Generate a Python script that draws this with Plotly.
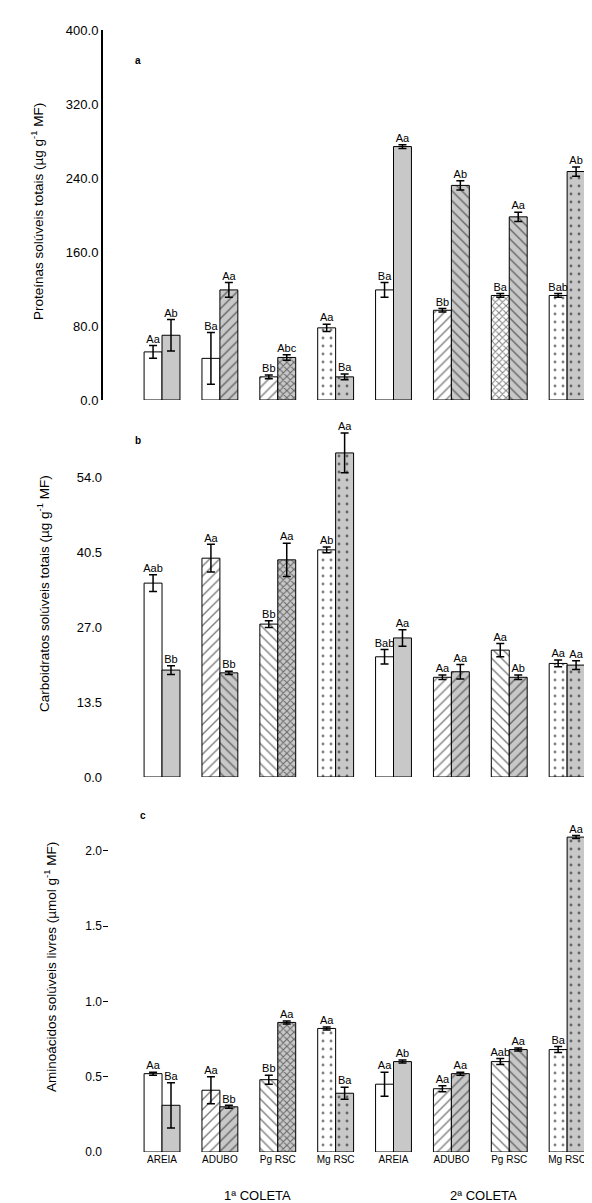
import plotly.graph_objects as go

categories = ["AREIA", "ADUBO", "Pg RSC", "Mg RSC", "AREIA", "ADUBO", "Pg RSC", "Mg RSC"]
groups = ["1ª COLETA", "2ª COLETA"]

# Panel a - proteins
prot_left = [52, 45, 25, 78, 119, 97, 113, 113]
prot_left_err = [7, 28, 2, 4, 8, 2, 2, 2]
prot_right = [70, 119, 46, 25, 274, 232, 198, 247]
prot_right_err = [17, 8, 3, 3, 2, 5, 5, 5]
prot_left_lbl = ["Aa", "Ba", "Bb", "Aa", "Ba", "Bb", "Ba", "Bab"]
prot_right_lbl = ["Ab", "Aa", "Abc", "Ba", "Aa", "Ab", "Aa", "Ab"]

# Panel b - carbohydrates
carb_left = [35.0, 39.5, 27.6, 41.0, 21.7, 18.0, 22.9, 20.5]
carb_left_err = [1.5, 2.5, 0.6, 0.5, 1.3, 0.4, 1.2, 0.6]
carb_right = [19.3, 18.8, 39.2, 58.5, 25.1, 19.0, 18.0, 20.2]
carb_right_err = [0.8, 0.3, 3.0, 3.6, 1.5, 1.3, 0.4, 0.8]
carb_left_lbl = ["Aab", "Aa", "Bb", "Ab", "Bab", "Aa", "Aa", "Aa"]
carb_right_lbl = ["Bb", "Bb", "Aa", "Aa", "Aa", "Aa", "Ab", "Aa"]

# Panel c - amino acids
amin_left = [0.52, 0.41, 0.48, 0.82, 0.45, 0.42, 0.60, 0.68]
amin_left_err = [0.01, 0.09, 0.03, 0.01, 0.08, 0.02, 0.02, 0.02]
amin_right = [0.31, 0.30, 0.86, 0.39, 0.60, 0.52, 0.68, 2.09]
amin_right_err = [0.15, 0.01, 0.01, 0.04, 0.01, 0.01, 0.01, 0.01]
amin_left_lbl = ["Aa", "Aa", "Bb", "Aa", "Aa", "Aa", "Aab", "Ba"]
amin_right_lbl = ["Ba", "Bb", "Aa", "Ba", "Ab", "Aa", "Aa", "Aa"]

# styles
pat_left = {
    "y": ["", "", "/", ".", "", "/", "x", "."],
    "y2": ["", "/", "\\", ".", "", "/", "\\", "."],
    "y3": ["", "/", "\\", ".", "", "/", "\\", "."],
}
pat_right = {
    "y": ["", "/", "x", ".", "", "\\", "\\", "."],
    "y2": ["", "\\", "x", ".", "", "/", "/", "."],
    "y3": ["", "/", "x", ".", "", "/", "\\", "."],
}
GRAY = "#c8c8c8"
BW = 0.31
FONT = "Liberation Sans, Arial, sans-serif"


def solid(shapes):
    return [0.35 if s == "x" else (0.1 if s == "." else 0.2) for s in shapes]


def psize(shapes):
    return [5 if s == "x" else (8 if s == "." else 7) for s in shapes]


panels = [
    ("y", prot_left, prot_left_err, prot_right, prot_right_err, prot_left_lbl, prot_right_lbl),
    ("y2", carb_left, carb_left_err, carb_right, carb_right_err, carb_left_lbl, carb_right_lbl),
    ("y3", amin_left, amin_left_err, amin_right, amin_right_err, amin_left_lbl, amin_right_lbl),
]

idx = list(range(len(categories)))
fig = go.Figure()
for yref, lv, le, rv, re_, ll, rl in panels:
    xname = "x" if yref == "y" else "x" + yref[1:]
    xl = [i - BW / 2 for i in idx]
    xr = [i + BW / 2 for i in idx]
    fig.add_trace(go.Bar(
        x=xl, y=lv, width=BW, xaxis=xname, yaxis=yref,
        marker=dict(color="white", line=dict(color="black", width=1),
                    pattern=dict(shape=pat_left[yref], fgcolor="black",
                                 size=psize(pat_left[yref]),
                                 solidity=solid(pat_left[yref]), fillmode="overlay")),
        error_y=dict(type="data", array=le, color="black", thickness=1.5, width=4),
        showlegend=False))
    fig.add_trace(go.Bar(
        x=xr, y=rv, width=BW, xaxis=xname, yaxis=yref,
        marker=dict(color=GRAY, line=dict(color="black", width=1),
                    pattern=dict(shape=pat_right[yref], fgcolor="black",
                                 size=psize(pat_right[yref]),
                                 solidity=solid(pat_right[yref]), fillmode="overlay")),
        error_y=dict(type="data", array=re_, color="black", thickness=1.5, width=4),
        showlegend=False))
    fig.add_trace(go.Scatter(
        x=xl + xr, y=[v + e for v, e in zip(lv, le)] + [v + e for v, e in zip(rv, re_)],
        text=ll + rl, mode="text", textposition="top center",
        textfont=dict(size=11, color="black", family=FONT),
        xaxis=xname, yaxis=yref, cliponaxis=False, showlegend=False))

# page body has an 8px margin: work in reference pixels minus 8
OFF = 8
W, H = 592 - OFF, 1203 - OFF
L = 103 - OFF
top_px, bot_px = 30 - OFF, 1152 - OFF
span = bot_px - top_px


def dom(t, b):
    return [(1152 - b) / span, (1152 - t) / span]


xr_range = [-1.02, 7.43]
common_x = dict(range=xr_range, showline=False, showgrid=False, zeroline=False,
                tickvals=idx, ticktext=categories, ticks="",
                tickfont=dict(size=10, family=FONT, color="black"))
fig.update_layout(
    width=W, height=H, barmode="overlay",
    margin=dict(l=L, r=0, t=top_px, b=H - bot_px),
    paper_bgcolor="white", plot_bgcolor="white",
    font=dict(family=FONT, color="black"),
    xaxis=dict(common_x, anchor="y", showticklabels=False),
    xaxis2=dict(common_x, anchor="y2", showticklabels=False, matches="x"),
    xaxis3=dict(common_x, anchor="y3", showticklabels=True, matches="x"),
    yaxis=dict(domain=dom(30, 400), range=[0, 400], tickvals=[0, 80, 160, 240, 320, 400],
               tickformat=".1f", showline=True, linewidth=2, linecolor="black",
               showgrid=False, zeroline=False, ticks="", tickfont=dict(size=13)),
    yaxis2=dict(domain=dom(428, 777), range=[0, 63], tickvals=[0, 13.5, 27, 40.5, 54],
                tickformat=".1f", showline=False, showgrid=False, zeroline=False,
                ticks="", tickfont=dict(size=13)),
    yaxis3=dict(domain=dom(813, 1152), range=[0, 2.25], tickvals=[0, 0.5, 1.0, 1.5, 2.0],
                tickformat=".1f", showline=False, showgrid=False, zeroline=False,
                ticks="inside", ticklen=5, tickcolor="black", tickfont=dict(size=12)),
)


def px2paper_x(px):
    return (px - 103) / (W - L)


def px2paper_y(py):
    return (1152 - py) / span


annots = [
    ("Proteínas solúveis totais (µg g<sup>-1</sup> MF)", 37, 212),
    ("Carboidratos solúveis totais (µg g<sup>-1</sup> MF)", 43, 594),
    ("Aminoácidos solúveis livres (µmol g<sup>-1</sup> MF)", 50, 967),
]
for txt, px, py in annots:
    fig.add_annotation(text=txt, x=px2paper_x(px), y=px2paper_y(py), xref="paper", yref="paper",
                       textangle=-90, showarrow=False, font=dict(size=13.5, family=FONT),
                       xanchor="center", yanchor="middle")
for lbl, px, py in [("a", 138, 60), ("b", 138, 440), ("c", 143, 815)]:
    fig.add_annotation(text="<b>" + lbl + "</b>", x=px2paper_x(px), y=px2paper_y(py),
                       xref="paper", yref="paper", showarrow=False,
                       font=dict(size=10, family=FONT), xanchor="center", yanchor="middle")
for g, xc in zip(groups, [1.65, 5.55]):
    fig.add_annotation(text=g, x=xc, xref="x3", y=px2paper_y(1195), yref="paper",
                       showarrow=False, font=dict(size=13, family=FONT),
                       xanchor="center", yanchor="middle")

fig.write_html("out.html")
